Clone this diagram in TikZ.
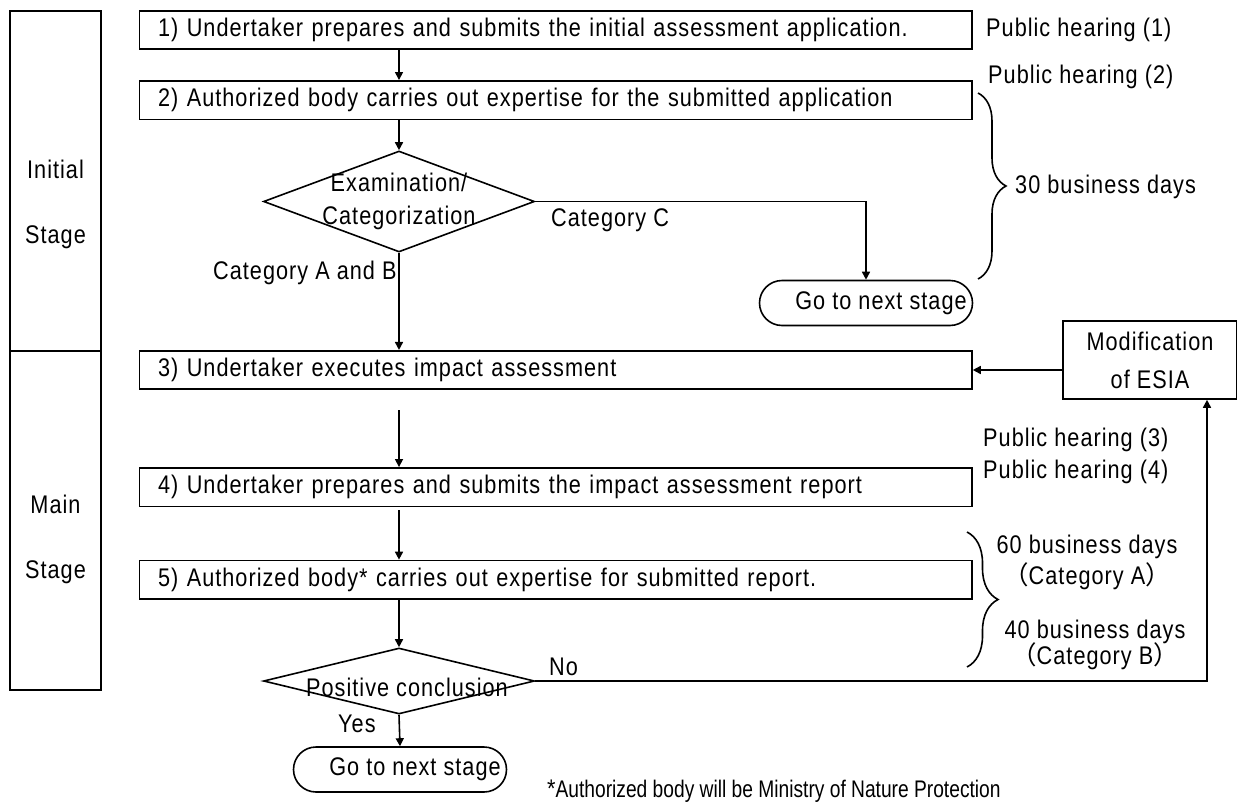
\documentclass[tikz,border=0pt]{standalone}
\usepackage{fontspec}
\setmainfont{Liberation Sans}[FakeStretch=0.85,LetterSpace=4]
\newfontfamily\notefont{Liberation Sans}[FakeStretch=0.8]
\newfontfamily\cjk{Noto Sans CJK JP}
\usetikzlibrary{positioning,arrows.meta,shapes.geometric,shapes.misc,decorations.pathreplacing}
\tikzset{
  stepbox/.style={rectangle,draw,line width=1.6pt,inner xsep=18.5pt,inner ysep=0pt,text width=795.5pt,minimum height=38.5pt,align=left},
  stagebox/.style={rectangle,draw,line width=1.6pt,minimum width=91pt,inner sep=0pt},
  decide/.style={diamond,draw,line width=1.6pt,minimum width=271pt,inner sep=0pt},
  nextstage/.style={rounded rectangle,draw,line width=1.6pt,minimum width=213pt,minimum height=45pt,inner sep=0pt},
  modbox/.style={rectangle,draw,line width=1.6pt,minimum width=174pt,minimum height=78pt,align=center,inner sep=0pt},
  lbl/.style={inner sep=0pt},
  flow/.style={-{Triangle[length=8pt,width=8pt]},line width=1.6pt},
  curly/.style={decorate,decoration={brace,amplitude=#1},line width=1.6pt},
}
\begin{document}
\begin{tikzpicture}[x=1pt,y=-1pt,every node/.style={font=\fontsize{25.5}{29}\selectfont}]
  \useasboundingbox (0,0) rectangle (1237,803);
  % stage column
  \node[stagebox,minimum height=340pt,label={[align=center,yshift=-23pt]center:Initial\\[36pt]Stage}] (stI) at (55.5,181) {};
  \node[stagebox,minimum height=339pt,label={[align=center,yshift=-19pt]center:Main\\[36pt]Stage}] (stM) at (55.5,520.5) {};
  % steps
  \node[stepbox] (b1) at (555.75,30) {1) Undertaker prepares and submits the initial assessment application.};
  \node[stepbox,below=30pt of b1] (b2) {2) Authorized body carries out expertise for the submitted application};
  \node[decide,minimum height=101pt,label={[align=center]center:Examination/\\[4pt]Categorization}] (d1) at (399,201.5) {};
  \node[nextstage,label={[xshift=15pt]center:Go to next stage}] (o1) at (866,303) {};
  \node[stepbox] (b3) at (555.75,370) {3) Undertaker executes impact assessment};
  \node[modbox] (mod) at (1150,360) {Modification\\[9pt]of ESIA};
  \node[stepbox,below=77pt of b3] (b4) {4) Undertaker prepares and submits the impact assessment report};
  \node[stepbox,below=52.5pt of b4] (b5) {5) Authorized body* carries out expertise for submitted report.};
  \node[decide,minimum height=66pt,label={[xshift=8pt,yshift=-6pt]center:Positive conclusion}] (d2) at (399,681) {};
  \node[nextstage,label={[xshift=15pt]center:Go to next stage}] (o2) at (400,769.5) {};
  % side texts
  \node[lbl,anchor=west] (ph1) at (986,30) {Public hearing (1)};
  \node[lbl,anchor=west] (ph2) at (988,77) {Public hearing (2)};
  \node[lbl,anchor=west] (ph3) at (983,440) {Public hearing (3)};
  \node[lbl,anchor=west] (ph4) at (983,472) {Public hearing (4)};
  \node[lbl,anchor=west] (d30) at (1015,187) {30 business days};
  \node[lbl,align=center] (d60) at (1087,562.5) {60 business days\\[2pt]{\cjk （}Category A{\cjk ）}};
  \node[lbl,align=center] (d40) at (1095,645) {40 business days\\[-3pt]{\cjk （}Category B{\cjk ）}};
  \node[lbl,anchor=west] (catC) at (551,220) {Category C};
  \node[lbl,anchor=west] (catAB) at (213,273) {Category A and B};
  \node[lbl,anchor=west] (yes) at (338,724) {Yes};
  \node[lbl,anchor=west] (no) at (549,667) {No};
  \node[lbl,anchor=base west] (note) at (547,797) {*{\notefont\fontsize{24}{28}\selectfont Authorized body will be Ministry of Nature Protection}};
  % braces
  \coordinate (br1a) at (978,93);
  \coordinate (br1b) at (978,279);
  \coordinate (br2a) at (967,532);
  \coordinate (br2b) at (967,667);
  \draw[curly=28pt] (br1a) -- (br1b);
  \draw[curly=31pt] (br2a) -- (br2b);
  % arrows
  \draw[flow] (b1.south -| d1) -- (b2.north -| d1);
  \draw[flow] (b2.south -| d1) -- (d1.north);
  \draw[flow] (d1.east) -| (o1.north);
  \draw[flow] (d1.south) -- (b3.north -| d1);
  \draw[flow,shorten <=20pt] (b3.south -| d1) -- (b4.north -| d1);
  \draw[flow,shorten <=3pt] (b4.south -| d1) -- (b5.north -| d1);
  \draw[flow] (b5.south -| d1) -- (d2.north);
  \draw[flow] (d2.south) -- (o2.north);
  \draw[flow] (d2.east) -| ([xshift=57pt]mod.south);
  \draw[flow] (mod.west |- b3.east) -- (b3.east);
\end{tikzpicture}
\end{document}
